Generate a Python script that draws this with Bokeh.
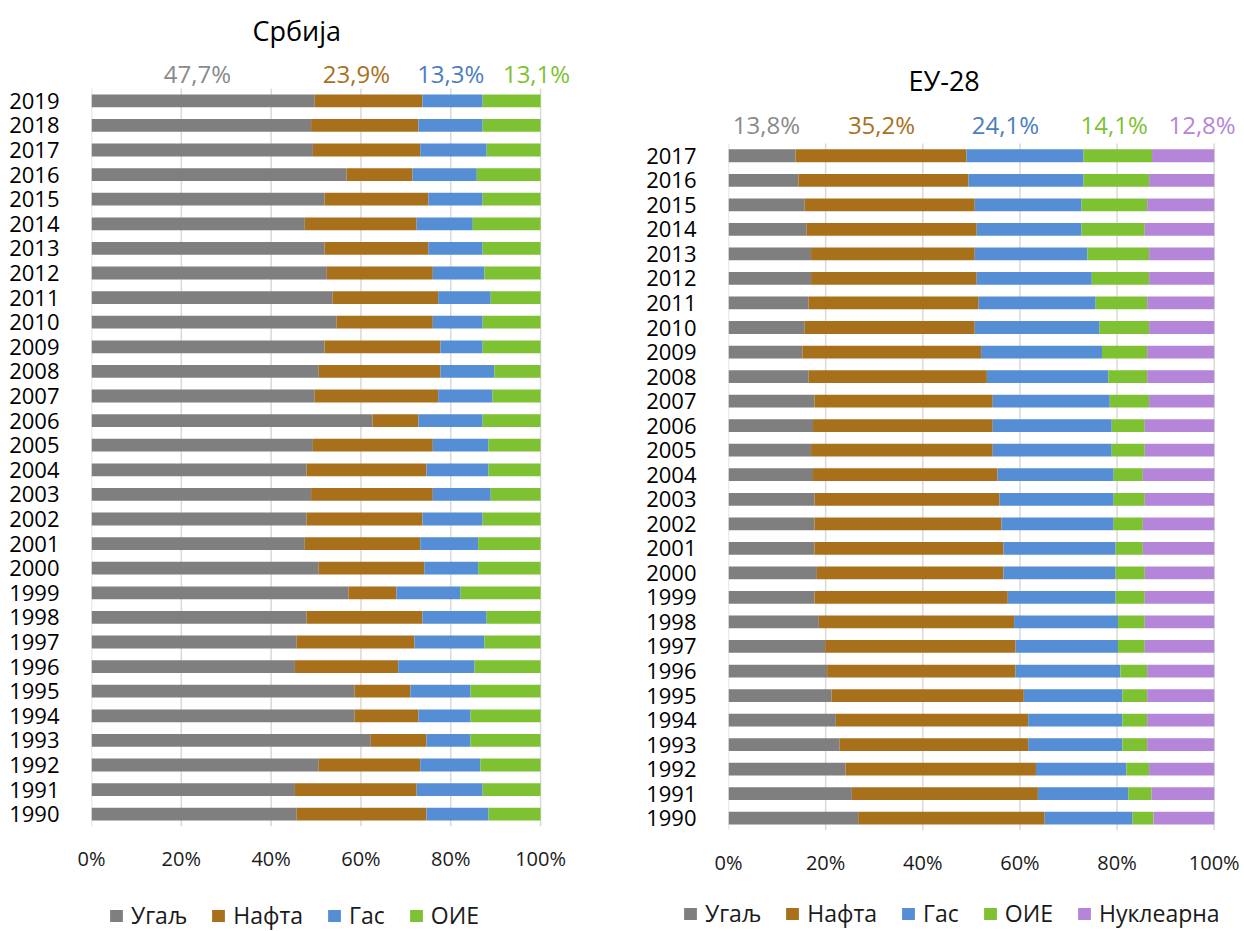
from bokeh.plotting import figure
from bokeh.models import ColumnDataSource, Range1d, FixedTicker, Legend, LegendItem
from bokeh.layouts import row, column
from bokeh.core.properties import value
from bokeh.embed import file_html
from bokeh.resources import INLINE

FONT = "Open Sans"

# ---------------- data: Србија (shares, %) ----------------
rs_years = list(range(1990, 2020))
rs_coal = [45.7, 45.3, 50.6, 62.2, 58.6, 58.6, 45.3, 45.7, 47.9, 57.2,
           50.6, 47.5, 47.9, 48.9, 47.9, 49.3, 62.6, 49.7, 50.6, 51.9,
           54.6, 53.7, 52.4, 51.9, 47.5, 51.9, 56.8, 49.3, 48.9, 49.7]
rs_oil = [28.9, 27.1, 22.6, 12.4, 14.2, 12.4, 23.0, 26.2, 25.8, 10.7,
          23.5, 25.7, 25.8, 27.1, 26.7, 26.7, 10.2, 27.5, 27.1, 25.8,
          21.4, 23.5, 23.6, 23.1, 24.9, 23.1, 14.7, 23.9, 23.9, 24.0]
rs_gas = [13.8, 14.7, 13.4, 9.8, 11.6, 13.4, 17.0, 15.6, 14.3, 14.3,
          12.0, 12.9, 13.4, 12.9, 13.8, 12.4, 14.3, 12.1, 12.0, 9.4,
          11.1, 11.7, 11.5, 12.1, 12.5, 12.1, 14.3, 14.8, 14.3, 13.4]
rs_oie = [11.6, 12.9, 13.4, 15.6, 15.6, 15.6, 14.7, 12.5, 12.0, 17.8,
          13.9, 13.9, 12.9, 11.1, 11.6, 11.6, 12.9, 10.7, 10.3, 12.9,
          12.9, 11.1, 12.5, 12.9, 15.1, 12.9, 14.2, 12.0, 12.9, 12.9]
rs_header = ["47,7%", "23,9%", "13,3%", "13,1%"]

# ---------------- data: ЕУ-28 (shares, %) ----------------
eu_years = list(range(1990, 2018))
eu_coal = [26.7, 25.4, 24.1, 22.9, 22.1, 21.2, 20.3, 19.9, 18.6, 17.7,
           18.2, 17.7, 17.7, 17.7, 17.4, 17.0, 17.4, 17.7, 16.5, 15.2,
           15.7, 16.5, 17.0, 17.0, 16.1, 15.7, 14.4, 13.8]
eu_oil = [38.4, 38.3, 39.2, 38.8, 39.6, 39.6, 38.8, 39.2, 40.2, 39.8,
          38.4, 38.9, 38.5, 38.1, 38.0, 37.4, 37.0, 36.7, 36.7, 36.8,
          35.0, 35.0, 34.1, 33.7, 35.0, 35.0, 35.0, 35.2]
eu_gas = [18.1, 18.6, 18.6, 19.4, 19.4, 20.3, 21.6, 21.1, 21.4, 22.2,
          23.1, 23.1, 23.1, 23.5, 23.9, 24.5, 24.5, 24.1, 25.0, 24.9,
          25.7, 24.1, 23.7, 23.2, 21.6, 22.0, 23.7, 24.1]
eu_oie = [4.3, 4.8, 4.7, 5.1, 5.1, 5.1, 5.5, 5.5, 5.5, 6.0,
          6.0, 5.6, 6.0, 6.4, 6.0, 6.8, 6.8, 8.1, 8.0, 9.3,
          10.2, 10.6, 11.8, 12.7, 13.0, 13.5, 13.5, 14.1]
eu_nuc = [12.5, 12.9, 13.4, 13.8, 13.8, 13.8, 13.8, 14.3, 14.3, 14.3,
          14.3, 14.7, 14.7, 14.3, 14.7, 14.3, 14.3, 13.4, 13.8, 13.8,
          13.4, 13.8, 13.4, 13.4, 14.3, 13.8, 13.4, 12.8]
eu_header = ["13,8%", "35,2%", "24,1%", "14,1%", "12,8%"]

series_names = ["Угаљ", "Нафта", "Гас", "ОИЕ", "Нуклеарна"]
x_ticks = [0, 20, 40, 60, 80, 100]

# ---------------- styles ----------------
bar_colors = ["#7f7f7f", "#a9701c", "#558ed5", "#7ec132", "#b585da"]
header_colors = ["#8a8a8a", "#a9701c", "#4a7ec0", "#7ec132", "#b585da"]


def make_chart(title, years, data, header, header_x, title_x, title_dy, header_dy,
               width, head_px, row_px, px100, b_left, x_end, b_bottom,
               legend_h, legend_x, legend_y):
    n = len(data)
    keys = ["s%d" % i for i in range(n)]
    colors = bar_colors[:n]
    frame_w = int(round(px100 * x_end / 100.0))
    b_right = width - b_left - frame_w
    frame_h = int(round(head_px + row_px * len(years)))
    y0 = years[0] - 0.5
    y_top_rows = years[-1] + 0.5
    y1 = y_top_rows + head_px / row_px

    src = ColumnDataSource(dict(year=years, **{k: v for k, v in zip(keys, data)}))
    p = figure(frame_width=frame_w, frame_height=frame_h, output_backend="svg",
               toolbar_location=None,
               x_range=Range1d(0, x_end), y_range=Range1d(y0, y1),
               min_border_left=b_left, min_border_right=b_right,
               min_border_top=0, min_border_bottom=b_bottom)
    p.outline_line_color = None
    p.xgrid.visible = False
    p.ygrid.visible = False

    # vertical gridlines at the x ticks, spanning the bar rows only
    p.segment(x0=x_ticks, x1=x_ticks, y0=[y0] * len(x_ticks), y1=[y_top_rows] * len(x_ticks),
              line_color="#d9d9d9", line_width=1.5, level="underlay")

    p.hbar_stack(keys, y="year", height=0.52, source=src, color=colors, line_color=None)

    xa = p.xaxis[0]
    xa.ticker = FixedTicker(ticks=x_ticks)
    xa.major_label_overrides = {t: "%d%%" % t for t in x_ticks}
    xa.axis_line_color = None
    xa.major_tick_line_color = None
    xa.minor_tick_line_color = None
    xa.major_label_standoff = 12
    xa.major_label_text_font = FONT
    xa.major_label_text_font_size = "20px"
    xa.major_label_text_color = "#1a1a1a"

    ya = p.yaxis[0]
    ya.ticker = FixedTicker(ticks=years)
    ya.axis_line_color = None
    ya.major_tick_line_color = None
    ya.minor_tick_line_color = None
    ya.major_label_standoff = 26
    ya.major_label_text_font = FONT
    ya.major_label_text_font_size = "22px"
    ya.major_label_text_color = "#000000"

    # title and latest-year shares above the bars
    p.text(x=[title_x], y=[years[-1] + title_dy], text=[title], text_align="center",
           text_baseline="middle", text_font=value(FONT), text_font_size="27px",
           text_color="#000000")
    hsrc = ColumnDataSource(dict(x=header_x, y=[years[-1] + header_dy] * len(header),
                                 text=header, color=header_colors[:len(header)]))
    p.text(x="x", y="y", text="text", text_color="color", source=hsrc,
           text_align="center", text_baseline="middle", text_font=value(FONT),
           text_font_size="24px")

    # legend strip (hidden proxy renderers of the same bars)
    lg = figure(width=width, height=legend_h, output_backend="svg", toolbar_location=None,
                x_range=Range1d(0, width), y_range=Range1d(0, legend_h),
                x_axis_type=None, y_axis_type=None, min_border=0)
    lg.outline_line_color = None
    lg.grid.visible = False
    rends = lg.hbar_stack(keys, y="year", height=0.52, source=src, color=colors,
                          line_color=None)
    for r in rends:
        r.visible = False
    items = [LegendItem(label=nm, renderers=[r]) for nm, r in zip(series_names, rends)]
    leg = Legend(items=items, orientation="horizontal", location=(legend_x, legend_y),
                 label_text_font=FONT, label_text_font_size="23px",
                 label_text_color="#1a1a1a",
                 glyph_width=16, glyph_height=15, label_standoff=7, spacing=23,
                 padding=0, margin=0, border_line_color=None,
                 background_fill_alpha=0, inactive_fill_alpha=0)
    lg.add_layout(leg, "center")

    return column(p), lg


c1, lg1 = make_chart("Србија", rs_years, [rs_coal, rs_oil, rs_gas, rs_oie], rs_header,
                     [23.6, 59.0, 80.0, 99.1], 45.7, 2.85, 1.12,
                     width=600, head_px=88, row_px=24.6, px100=449, b_left=91,
                     x_end=108, b_bottom=50, legend_h=51, legend_x=108, legend_y=0)
c2, lg2 = make_chart("ЕУ-28", eu_years, [eu_coal, eu_oil, eu_gas, eu_oie, eu_nuc],
                     eu_header, [7.8, 31.5, 57.0, 79.4, 97.5], 44.4, 3.06, 1.26,
                     width=644, head_px=143, row_px=24.54, px100=486, b_left=128,
                     x_end=105, b_bottom=50, legend_h=51, legend_x=82, legend_y=2)

layout = column(row(c1, c2, spacing=0), row(lg1, lg2, spacing=0), spacing=0)
open("out.html", "w").write(file_html(layout, INLINE))
